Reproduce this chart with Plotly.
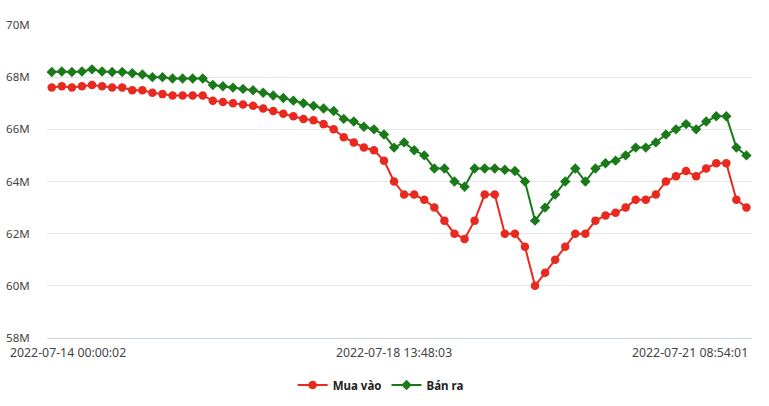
import plotly.graph_objects as go

# Data (values in millions VND)
mua_vao = [67.6, 67.65, 67.6, 67.65, 67.7, 67.65, 67.6, 67.6, 67.5, 67.5,
           67.4, 67.35, 67.3, 67.3, 67.3, 67.3, 67.1, 67.05, 67.0, 66.95,
           66.9, 66.8, 66.7, 66.6, 66.5, 66.4, 66.35, 66.2, 66.0, 65.7,
           65.5, 65.3, 65.2, 64.8, 64.0, 63.5, 63.5, 63.3, 63.0, 62.5,
           62.0, 61.8, 62.5, 63.5, 63.5, 62.0, 62.0, 61.5, 60.0, 60.5,
           61.0, 61.5, 62.0, 62.0, 62.5, 62.7, 62.8, 63.0, 63.3, 63.3,
           63.5, 64.0, 64.2, 64.4, 64.2, 64.5, 64.7, 64.7, 63.3, 63.0]
ban_ra = [68.2, 68.22, 68.2, 68.22, 68.3, 68.22, 68.2, 68.2, 68.15, 68.1,
          68.0, 68.0, 67.95, 67.95, 67.95, 67.95, 67.7, 67.65, 67.6, 67.55,
          67.5, 67.4, 67.3, 67.2, 67.1, 67.0, 66.9, 66.8, 66.7, 66.4,
          66.3, 66.1, 66.0, 65.8, 65.3, 65.5, 65.2, 65.0, 64.5, 64.5,
          64.0, 63.8, 64.5, 64.5, 64.5, 64.45, 64.4, 64.0, 62.5, 63.0,
          63.5, 64.0, 64.5, 64.0, 64.5, 64.7, 64.8, 65.0, 65.3, 65.3,
          65.5, 65.8, 66.0, 66.2, 66.0, 66.3, 66.5, 66.5, 65.3, 65.0]
x_idx = list(range(len(mua_vao)))

x_tick_pos = [0, 34, 69]
x_tick_labels = ["2022-07-14 00:00:02", "2022-07-18 13:48:03", "2022-07-21 08:54:01"]
y_tick_vals = [58, 60, 62, 64, 66, 68, 70]
y_tick_text = ["58M", "60M", "62M", "64M", "66M", "68M", "70M"]

RED = "#e8291f"
GREEN = "#1a7a1a"
FONT = "Noto Sans"
TXT = "#444444"

fig = go.Figure()
fig.add_trace(go.Scatter(
    x=x_idx, y=mua_vao, name="Mua vào", mode="lines+markers",
    line=dict(color=RED, width=2),
    marker=dict(symbol="circle", size=8.5, color=RED)))
fig.add_trace(go.Scatter(
    x=x_idx, y=ban_ra, name="Bán ra", mode="lines+markers",
    line=dict(color=GREEN, width=2),
    marker=dict(symbol="diamond", size=8, color=GREEN)))

annotations = []
anchors = ["left", "center", "right"]
shifts = [-44, 0, 4]
for pos, lab, anc, sh in zip(x_tick_pos, x_tick_labels, anchors, shifts):
    annotations.append(dict(
        x=pos, xref="x", y=-(352.5 - 338) / 313, yref="paper", yanchor="middle",
        xanchor=anc, xshift=sh, text=lab, showarrow=False,
        font=dict(family=FONT, size=12.3, color=TXT)))

fig.update_layout(
    width=769, height=406,
    margin=dict(l=47, r=17, t=25, b=68, autoexpand=False),
    paper_bgcolor="white", plot_bgcolor="white",
    font=dict(family=FONT, size=11, color=TXT),
    xaxis=dict(range=[-0.47, 69.55], showgrid=False, zeroline=False,
               showticklabels=False, ticks="", showline=True,
               linecolor="#ccd6eb", linewidth=1),
    yaxis=dict(range=[58, 70], tickvals=y_tick_vals, ticktext=y_tick_text,
               showgrid=True, gridcolor="#e6e6e6", gridwidth=1,
               zeroline=False, ticks="outside", ticklen=14,
               tickcolor="rgba(0,0,0,0)",
               tickfont=dict(family=FONT, size=11.5, color=TXT)),
    legend=dict(orientation="h", x=0.495, xanchor="center",
                xref="container", yref="container", y=1 - 385 / 406,
                yanchor="middle", font=dict(family=FONT, size=11.5,
                                            color="#222222", weight="bold"),
                itemwidth=30, traceorder="normal"),
    annotations=annotations,
    showlegend=True,
)

fig.write_html("out.html")
